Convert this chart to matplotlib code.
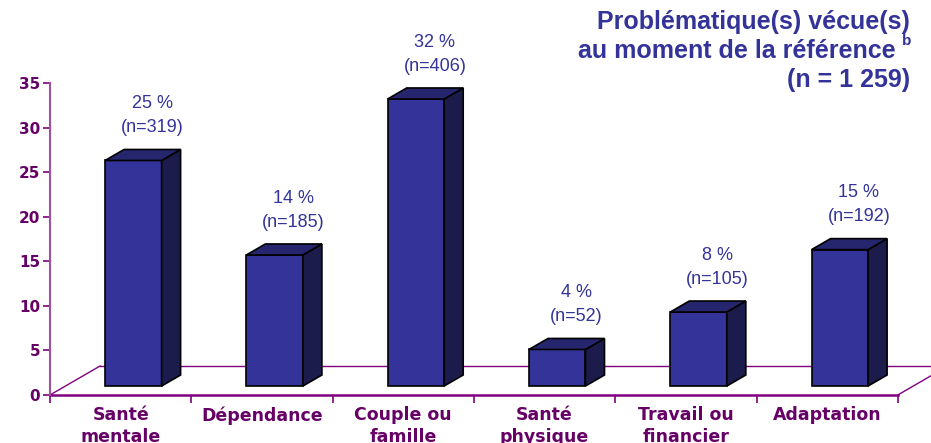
import matplotlib
matplotlib.use("Agg")
import matplotlib.pyplot as plt
from matplotlib.patches import Polygon

# data (percent of n = 1 259)
categories = ["Santé\nmentale", "Dépendance", "Couple ou\nfamille",
              "Santé\nphysique", "Travail ou\nfinancier", "Adaptation"]
values = [25.3, 14.7, 32.2, 4.1, 8.3, 15.3]
pct_labels = ["25 %", "14 %", "32 %", "4 %", "8 %", "15 %"]
n_labels = ["(n=319)", "(n=185)", "(n=406)", "(n=52)", "(n=105)", "(n=192)"]
yticks = [0, 5, 10, 15, 20, 25, 30, 35]

W, H = 931, 443
BLUE = "#333399"
SIDE = "#1c1c4c"
TOP = "#26266e"
PURPLE = "#660066"
LINE = "#800080"

# fake 3D geometry (category units / value units)
floor_dx, floor_dy = 0.354, 3.25
bar_w = 0.40
front_frac, depth_frac = 0.31, 0.38

fig = plt.figure(figsize=(W / 100, H / 100), dpi=100)
# axes: left at x=50px, y from 395px (0) to 83px (35)
ax = fig.add_axes([50 / W, 1 - 395 / H, 881 / W, 312 / H])
spacing = 141.3
ax.set_xlim(-0.5, -0.5 + 881 / spacing)
ax.set_ylim(0, 35)

for s in ["top", "right", "bottom"]:
    ax.spines[s].set_visible(False)
ax.spines["left"].set_color("#a050a0")
ax.spines["left"].set_linewidth(1.5)
ax.spines["left"].set_position(("data", -0.5))

ax.set_yticks(yticks)
ax.set_yticklabels([str(t) for t in yticks], fontsize=11, fontweight="bold",
                   color=PURPLE, family="DejaVu Sans")
ax.tick_params(axis="y", length=5, width=1.2, color=LINE, pad=2)

n = len(categories)
ax.set_xticks(range(n))
ax.set_xticklabels(categories, fontsize=12.5, fontweight="bold", color=PURPLE,
                   family="DejaVu Sans", linespacing=1.25)
ax.set_xticks([i - 0.5 for i in range(n + 1)], minor=True)
ax.tick_params(axis="x", which="major", length=0, pad=8)
ax.tick_params(axis="x", which="minor", length=6, width=1.2, color=LINE)

# floor
x_left, x_right = -0.5, n - 0.5
ax.plot([x_left, x_right], [0, 0], color=LINE, lw=1.8, clip_on=False, zorder=2)
ax.plot([x_left, x_left + floor_dx], [0, floor_dy], color=LINE, lw=1, zorder=1)
ax.plot([x_right, x_right + floor_dx], [0, floor_dy], color=LINE, lw=1, zorder=1)
ax.plot([x_left + floor_dx, x_right + floor_dx], [floor_dy, floor_dy],
        color=LINE, lw=1, zorder=1)

# bars
x0s = [i - bar_w / 2 + front_frac * floor_dx - 0.02 for i in range(n)]
base = front_frac * floor_dy
ddx, ddy = depth_frac * floor_dx, depth_frac * floor_dy
ax.bar(x0s, values, width=bar_w, bottom=base, align="edge", color=BLUE,
       edgecolor="black", linewidth=1.2, zorder=3)
for x0, v, p, nl in zip(x0s, values, pct_labels, n_labels):
    top = base + v
    side = Polygon([(x0 + bar_w, base), (x0 + bar_w + ddx, base + ddy),
                    (x0 + bar_w + ddx, top + ddy), (x0 + bar_w, top)],
                   closed=True, facecolor=SIDE, edgecolor="black", lw=1.2, zorder=3)
    cap = Polygon([(x0, top), (x0 + bar_w, top), (x0 + bar_w + ddx, top + ddy),
                   (x0 + ddx, top + ddy)],
                  closed=True, facecolor=TOP, edgecolor="black", lw=1.2, zorder=3)
    ax.add_patch(side)
    ax.add_patch(cap)
    cx = x0 + ddx + bar_w / 2
    ax.text(cx, top + ddy + 1.5, nl, ha="center", va="bottom", fontsize=13,
            color=BLUE, family="Liberation Sans", clip_on=False)
    ax.text(cx, top + ddy + 4.2, p, ha="center", va="bottom", fontsize=13,
            color=BLUE, family="Liberation Sans", clip_on=False)

# title
tkw = dict(ha="right", va="center", fontsize=18, fontweight="bold",
           color=BLUE, family="Liberation Sans")
fig.text(910 / W, 1 - 22 / H, "Problématique(s) vécue(s)", **tkw)
fig.text(896 / W, 1 - 51 / H, "au moment de la référence", **tkw)
fig.text(911 / W, 1 - 41 / H, "b", ha="right", va="center", fontsize=11,
         fontweight="bold", color=BLUE, family="Liberation Sans")
fig.text(910 / W, 1 - 80 / H, "(n = 1 259)", **tkw)

fig.savefig("out.png", dpi=100)
